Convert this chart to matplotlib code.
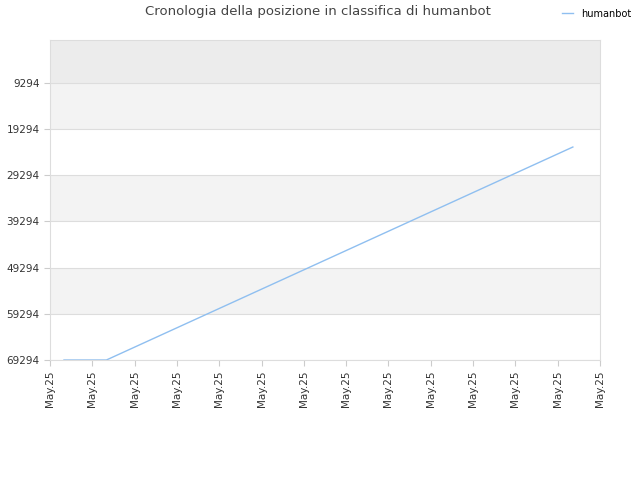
import matplotlib
matplotlib.use("Agg")
import matplotlib.pyplot as plt
import numpy as np

dates = ["May.25"] * 13
ranks = [69294, 69294, 65100, 60906, 56712, 52518, 48324, 44130, 39936, 35742, 31548, 27354, 23160]
ytick_vals = [9294, 19294, 29294, 39294, 49294, 59294, 69294]
xtick_labels = ["May.25"] * 14

fig = plt.figure(figsize=(6.4, 4.8), dpi=100)
ax = fig.add_axes([50/640, 120/480, 550/640, 320/480])
x = np.arange(len(ranks))
ax.plot(x, ranks, color="#8fbff0", lw=1, label="humanbot")
ax.set_ylim(69294, -20)
xl = (-0.33, 12.64)
ax.set_xlim(*xl)

# bands
edges = [-20] + ytick_vals
colors = ["#ececec", "#f3f3f3", "#ffffff", "#f3f3f3", "#ffffff", "#f3f3f3", "#ffffff"]
for i in range(len(edges) - 1):
    ax.axhspan(edges[i], edges[i+1], color=colors[i], zorder=0, lw=0)
for v in ytick_vals:
    ax.axhline(v, color="#dddddd", lw=0.8, zorder=0.5)

ax.set_yticks(ytick_vals)
ax.set_yticklabels([str(v) for v in ytick_vals], fontsize=7.5, color="#333333")
ax.set_xticks(np.linspace(xl[0], xl[1], 14))
ax.set_xticklabels(xtick_labels, rotation=90, fontsize=7.5, color="#333333")
ax.tick_params(length=4, color="#cccccc")
for s in ax.spines.values():
    s.set_color("#dddddd")

fig.text(318/640, 1 - 12/480, "Cronologia della posizione in classifica di humanbot",
         ha="center", va="center", fontsize=9.5, color="#444444")
fig.legend(loc="upper right", bbox_to_anchor=(1.0, 1.0), frameon=False, fontsize=7,
           handlelength=1.2)
fig.savefig("out.png", dpi=100)
